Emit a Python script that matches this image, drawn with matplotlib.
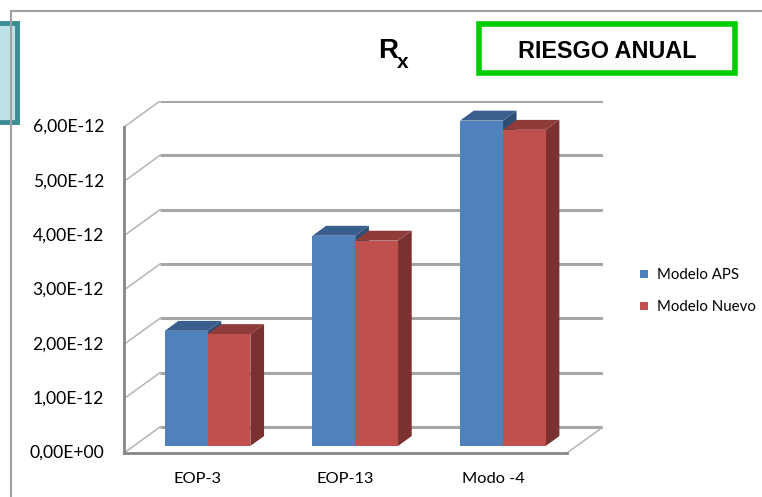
import matplotlib
matplotlib.use("Agg")
import matplotlib.pyplot as plt
from matplotlib.patches import Rectangle
from matplotlib.lines import Line2D

categories = ["EOP-3", "EOP-13", "Modo -4"]
modelo_aps = [2.12e-12, 3.87e-12, 5.99e-12]
modelo_nuevo = [2.06e-12, 3.78e-12, 5.82e-12]
series_names = ["Modelo APS", "Modelo Nuevo"]
y_ticks = [0, 1e-12, 2e-12, 3e-12, 4e-12, 5e-12, 6e-12]

# excel-like 3d look: front face, top and side for every bar
FACE = ["#4F81BD", "#C0504D"]
TOP = ["#3A5F8E", "#8E3B3A"]
SIDE = ["#2F4E76", "#7A3130"]

W, H = 762, 497
DX = 0.244          # depth offset of the back wall (category units)
DY = 0.48e-12       # depth offset of the back wall (value units)
F0 = 0.27           # depth where the bar front faces sit
BD = 0.38           # bar depth
BW = 0.29           # bar width

plt.rcParams["font.family"] = ["Lato", "DejaVu Sans"]

fig = plt.figure(figsize=(W / 100, H / 100), dpi=100)
ax = fig.add_axes([124 / W, (H - 453) / H, (603 - 124) / W, (453 - 101) / H])
ax.set_xlim(0, 3 + DX)
ax.set_ylim(0, 6e-12 + DY)
ax.axis("off")

# back wall gridlines and left wall stubs
for v in y_ticks:
    ax.plot([DX, 3 + DX], [v + DY, v + DY], color="#A6A6A6", lw=2.2,
            solid_capstyle="butt", zorder=1)
    ax.plot([0, DX], [v, v + DY], color="#B4B4B4", lw=1.1, zorder=1)
ax.plot([3, 3 + DX], [0, DY], color="#B4B4B4", lw=1.1, zorder=1)

# bars
for s, vals in enumerate([modelo_aps, modelo_nuevo]):
    for i, v in enumerate(vals):
        x0 = i + 0.5 + F0 * DX - BW + s * BW
        x1 = x0 + BW
        y0 = F0 * DY
        y1 = y0 + v
        dx, dy = BD * DX, BD * DY
        z = 3 + s
        ax.fill([x1, x1 + dx, x1 + dx, x1], [y0, y0 + dy, y1 + dy, y1],
                color=SIDE[s], lw=0, zorder=z)
        ax.fill([x0, x1, x1 + dx, x0 + dx], [y1, y1, y1 + dy, y1 + dy],
                color=TOP[s], lw=0, zorder=z)
        ax.bar(x0, v, width=BW, bottom=y0, align="edge", color=FACE[s],
               lw=0, zorder=z)

# front axis lines
ax.plot([0, 0], [0, 6e-12], color="#868686", lw=2, zorder=6,
        solid_capstyle="projecting", clip_on=False)
ax.plot([0, 3], [0, 0], color="#868686", lw=2, zorder=6,
        solid_capstyle="projecting", clip_on=False)

for v in y_ticks:
    ax.text(-0.135, v, f"{v:.2E}".replace(".", ","), ha="right", va="center",
            fontsize=12.6, color="#000000", clip_on=False)
for i, c in enumerate(categories):
    ax.text(i + 0.5, -0.48e-12, c, ha="center", va="center",
            fontsize=11.8, color="#000000", clip_on=False)

# legend
handles = [Line2D([], [], marker="s", ls="", markersize=6, color=FACE[k],
                  markeredgewidth=0) for k in range(2)]
fig.legend(handles, series_names, loc="center left",
           bbox_to_anchor=(630 / W, 1 - 291 / H), frameon=False,
           fontsize=10.8, labelspacing=1.2, handlelength=0.8,
           handletextpad=0.5, borderpad=0)

# chart frame
fig.add_artist(Line2D([11 / W, 1], [1 - 11 / H, 1 - 11 / H],
                      transform=fig.transFigure, color="#A0A0A0", lw=1.5))
fig.add_artist(Line2D([11 / W, 11 / W], [0, 1 - 11 / H],
                      transform=fig.transFigure, color="#A0A0A0", lw=1.5))

# side note box and heading box
fig.add_artist(Rectangle((-10 / W, 1 - 122 / H), 27 / W, 99 / H,
                         transform=fig.transFigure, facecolor="#BDE2E6",
                         edgecolor="#3B8D95", lw=3.5))
fig.add_artist(Rectangle((479 / W, 1 - 73 / H), 256 / W, 49 / H,
                         transform=fig.transFigure, facecolor="white",
                         edgecolor="#00CC00", lw=4))
fig.text(607 / W, 1 - 52 / H, "RIESGO ANUAL", ha="center", va="center",
         fontsize=16.8, fontweight="bold", family="Liberation Sans")

fig.text(378 / W, 1 - 58 / H, "R", ha="left", va="baseline",
         fontsize=20, fontweight="bold", family="Liberation Sans")
fig.text(397 / W, 1 - 68 / H, "x", ha="left", va="baseline",
         fontsize=15, fontweight="bold", family="Liberation Sans")

fig.savefig("out.png", dpi=100)
